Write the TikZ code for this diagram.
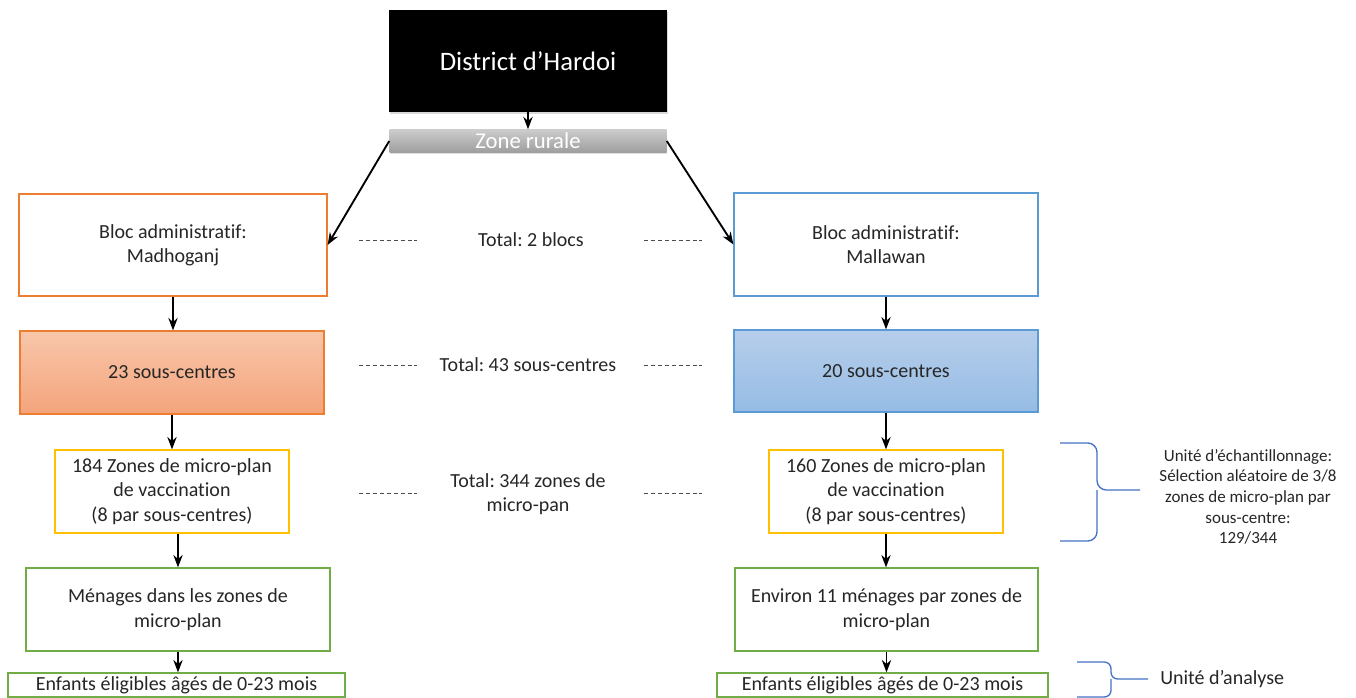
\documentclass[tikz,border=0pt]{standalone}
\usepackage{fontspec}
\setmainfont{Carlito}[Ligatures={NoCommon,NoRequired,NoContextual}]
\usepackage{tikz}
\usetikzlibrary{arrows.meta,positioning,calc,shadows}
\definecolor{blocorange}{RGB}{237,125,49}
\definecolor{blocblue}{RGB}{91,155,213}
\definecolor{zoneyellow}{RGB}{255,192,0}
\definecolor{menagegreen}{RGB}{112,173,71}
\definecolor{bracecol}{RGB}{68,114,196}
\definecolor{txt}{RGB}{38,38,38}
\frenchspacing

\begin{document}
\begin{tikzpicture}[x=0.75pt,y=-0.75pt,>=Stealth,
  every node/.style={inner sep=0pt,text=txt,align=center,font=\fontsize{15}{18.3}\selectfont},
  sz/.style 2 args={minimum width=#1*0.75pt,minimum height=#2*0.75pt},
  box/.style={rectangle,draw=#1,line width=0.9pt},
  flow/.style={->,line width=1.4pt,black},
  dots/.style={black!70,line width=0.7pt,dash pattern=on 3pt off 2.2pt},
  brace/.style={bracecol,line width=1pt,rounded corners=7pt}]
  \useasboundingbox (0,0) rectangle (1356,698);
  % top of the tree
  \node[sz={278}{102},fill=black,text=white,font=\fontsize{20}{24}\selectfont,
        drop shadow={opacity=0.3,shadow xshift=1pt,shadow yshift=-1.5pt}] (dist) at (528,61) {District d’Hardoi};
  \node[sz={277}{23},top color=black!20,bottom color=black!38,draw=none,text=white,
        font=\fontsize{17}{20}\selectfont,
        drop shadow={opacity=0.25,shadow xshift=0pt,shadow yshift=-1.5pt}] (rur) at (528,141) {Zone rurale};
  % left branch
  \node[box=blocorange,sz={308}{102}] (bl) at (173,245) {Bloc administratif:\\Madhoganj};
  \node[box=blocorange,sz={304}{83},top color={rgb,255:red,248;green,198;blue,170},
        bottom color={rgb,255:red,244;green,164;blue,124}] (sl) at (172,372.5) {23 sous-centres};
  \node[box=zoneyellow,sz={234}{83}] (zl) at (172,491.5) {184 Zones de micro-plan\\de vaccination\\(8 par sous-centres)};
  \node[box=menagegreen,sz={304}{83}] (ml) at (178,609.5) {Ménages dans les zones de\\micro-plan};
  \node[box=menagegreen,sz={337}{24}] (el) at (176.5,685) {Enfants éligibles âgés de 0-23 mois};
  % right branch
  \node[box=blocblue,sz={304}{103}] (br) at (886,244.5) {Bloc administratif:\\Mallawan};
  \node[box=blocblue,sz={304}{82},top color={rgb,255:red,182;green,206;blue,235},
        bottom color={rgb,255:red,150;green,188;blue,228}] (sr) at (886,371) {20 sous-centres};
  \node[box=zoneyellow,sz={234}{83}] (zr) at (886,491.5) {160 Zones de micro-plan\\de vaccination\\(8 par sous-centres)};
  \node[box=menagegreen,sz={303}{83}] (mr) at (886.5,609.5) {Environ 11 ménages par zones de\\micro-plan};
  \node[box=menagegreen,sz={331}{24}] (er) at (882.5,685) {Enfants éligibles âgés de 0-23 mois};
  % totals in the middle
  \node (tb) at (531,240) {Total: 2 blocs};
  \node (ts) at (528,365) {Total: 43 sous-centres};
  \node (tz) at (528,494) {Total: 344 zones de\\micro-pan};
  \foreach \y in {240,365,493} {
    \draw[dots] (359,\y) -- (417,\y);
    \draw[dots] (644,\y) -- (702,\y);
  }
  % right-hand notes
  \node[font=\fontsize{12.75}{15.5}\selectfont] (samp) at (1248,497) {Unité d’échantillonnage:\\Sélection aléatoire de 3/8\\zones de micro-plan par\\sous-centre:\\129/344};
  \node[anchor=west] (anal) at (1160,679) {Unité d’analyse};
  \draw[brace] (1060,443) -| (1097,490) -- (1140,490);
  \draw[brace] (1060,541) -| (1097,490);
  \draw[brace,rounded corners=5pt] (1077,662) -| (1111,679) -- (1148,679);
  \draw[brace,rounded corners=5pt] (1077,697) -| (1111,679);
  % arrows
  \draw[flow] (dist) -- (rur);
  \draw[flow] (rur.west) -- (bl.east);
  \draw[flow] (rur.east) -- (br.west);
  \draw[flow] (bl.south) -- (bl.south |- sl.north);
  \draw[flow] (sl.south) -- (zl.north);
  \draw[flow] (ml.north |- zl.south) -- (ml.north);
  \draw[flow] (ml.south) -- (ml.south |- el.north);
  \draw[flow] (br.south) -- (sr.north);
  \draw[flow] (sr.south) -- (zr.north);
  \draw[flow] (zr.south) -- (zr.south |- mr.north);
  \draw[flow] (mr.south) -- (mr.south |- er.north);
\end{tikzpicture}
\end{document}
